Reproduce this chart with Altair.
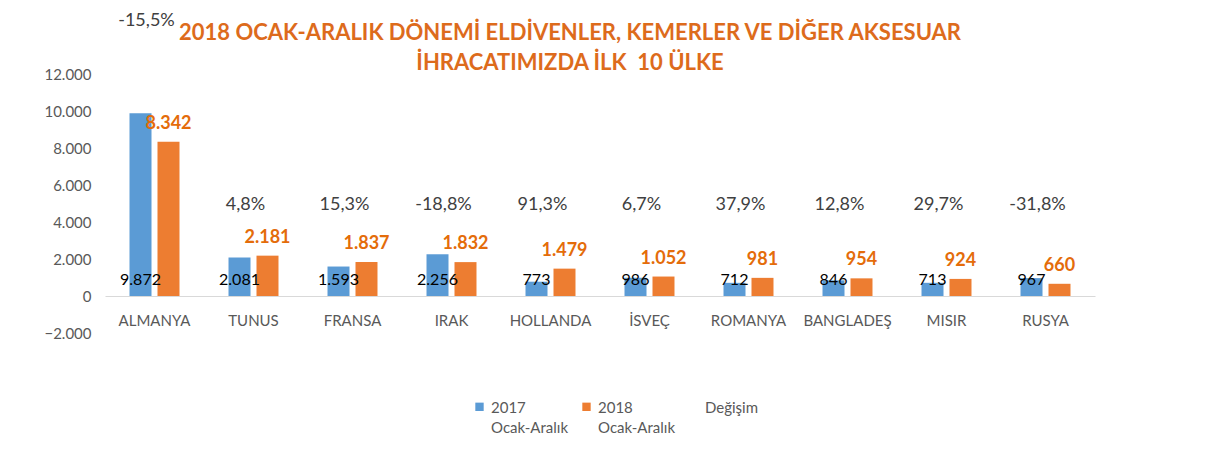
import altair as alt
import pandas as pd

categories = ["ALMANYA", "TUNUS", "FRANSA", "IRAK", "HOLLANDA", "İSVEÇ",
              "ROMANYA", "BANGLADEŞ", "MISIR", "RUSYA"]
v2017 = [9872, 2081, 1593, 2256, 773, 986, 712, 846, 713, 967]
v2018 = [8342, 2181, 1837, 1832, 1479, 1052, 981, 954, 924, 660]
change = [-15.5, 4.8, 15.3, -18.8, 91.3, 6.7, 37.9, 12.8, 29.7, -31.8]
series_names = ["2017 Ocak-Aralık", "2018 Ocak-Aralık", "Değişim"]

FONT = "Lato"


def tr_num(v):
    return f"{v:,}".replace(",", ".")


def tr_pct(v):
    return f"{v:.1f}%".replace(".", ",")


rows = []
for c, a, b in zip(categories, v2017, v2018):
    rows.append({"category": c, "series": series_names[0], "value": a, "label": tr_num(a)})
    rows.append({"category": c, "series": series_names[1], "value": b, "label": tr_num(b)})
df = pd.DataFrame(rows)

chg = pd.DataFrame({
    "category": categories,
    "top": [max(a, b) for a, b in zip(v2017, v2018)],
    "label": [tr_pct(v) for v in change],
})

x_enc = alt.X("category:N", sort=categories,
              scale=alt.Scale(paddingInner=0.495, paddingOuter=0.2475),
              axis=alt.Axis(title=None, labelAngle=0, ticks=False, domain=True,
                            domainColor="#D9D9D9", domainWidth=1, offset=-37,
                            labelPadding=17, labelFont=FONT, labelFontSize=15,
                            labelColor="#595959"))
xoff = alt.XOffset("series:N", scale=alt.Scale(domain=series_names[:2], paddingInner=0.214))
y_scale = alt.Scale(domain=[-2000, 12000], nice=False)
y_enc = alt.Y("value:Q", scale=y_scale,
              axis=alt.Axis(title=None, values=list(range(-2000, 12001, 2000)),
                            tickCount=20,
                            labelExpr="replace(format(datum.value, ','), ',', '.')",
                            labelOverlap=False,
                            grid=False, ticks=False, domain=False, labelPadding=14,
                            labelFont=FONT, labelFontSize=15, labelColor="#595959"))

color = alt.Color("series:N",
                  scale=alt.Scale(domain=series_names,
                                  range=["#5B9BD5", "#ED7D31", "rgba(0,0,0,0)"]),
                  legend=alt.Legend(title=None, orient="none", direction="horizontal",
                                    legendX=367, legendY=319,
                                    symbolType="M-1,0.45H1V2.45H-1Z",
                                    symbolSize=70, symbolStrokeWidth=0,
                                    labelExpr="datum.label == 'Değişim' ? ['Değişim', ' '] : split(datum.label, ' ')",
                                    labelFont=FONT, labelFontSize=15,
                                    labelColor="#595959", labelBaseline="top",
                                    columnPadding=10, labelOffset=4, labelLimit=120))

bars = alt.Chart(df).mark_bar().encode(x=x_enc, xOffset=xoff, y=y_enc, color=color)

lab17 = alt.Chart(df).transform_filter(
    alt.datum.series == series_names[0]
).transform_calculate(zero="0").mark_text(
    dy=-16, font=FONT, fontSize=16, color="#000000"
).encode(x=alt.X("category:N", sort=categories), xOffset="series:N",
         y=alt.Y("zero:Q"), text="label:N")

lab18 = alt.Chart(df).transform_filter(
    alt.datum.series == series_names[1]
).mark_text(
    dy=-18, font=FONT, fontSize=18, fontWeight="bold", color="#E46C0A"
).encode(x=alt.X("category:N", sort=categories), xOffset="series:N",
         y=alt.Y("value:Q"), text="label:N")

labchg = alt.Chart(chg).transform_calculate(
    pos="datum.top > 5000 ? datum.top + 5000 : 4900"
).mark_text(
    dx=-8, font=FONT, fontSize=18, color="#404040"
).encode(x=alt.X("category:N", sort=categories),
         y=alt.Y("pos:Q"), text="label:N")

chart = alt.layer(bars, lab17, lab18, labchg).properties(
    width=990, height=259,
    padding={"left": 97, "top": 66, "right": 112, "bottom": 108},
    autosize=alt.AutoSizeParams(type="none"),
    title=alt.TitleParams(
        ["2018 OCAK-ARALIK DÖNEMİ ELDİVENLER, KEMERLER VE DİĞER AKSESUAR",
         "İHRACATIMIZDA İLK\u00a0 10 ÜLKE"],
        font=FONT, fontSize=22, fontWeight="bold", color="#DD6B1C",
        anchor="middle", frame="group", offset=-63, dx=-30, lineHeight=30),
).configure(
    background="white",
    view=alt.ViewConfig(stroke=None),
    style={"guide-label": {"lineHeight": 20}},
)

chart.save("out.html", embed_options={"renderer": "svg", "actions": False})
